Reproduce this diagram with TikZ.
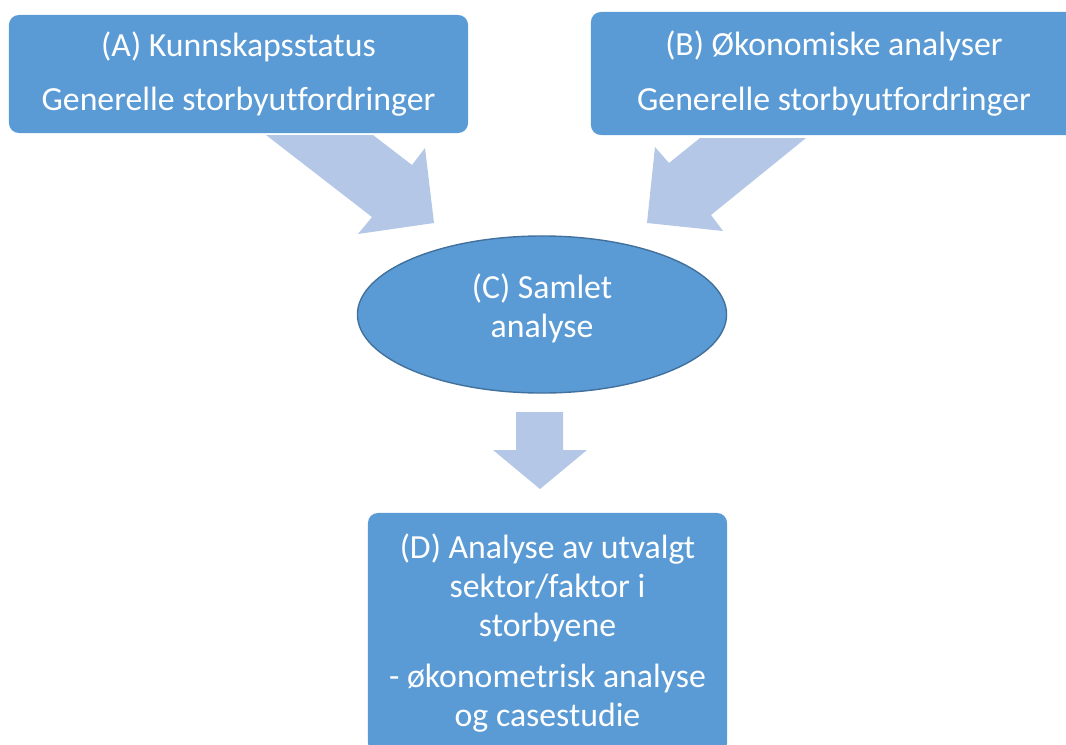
\documentclass[tikz,border=0pt]{standalone}
\usepackage{fontspec}
\setmainfont[Ligatures=NoCommon]{Carlito}
\usetikzlibrary{shapes.geometric}
\definecolor{boxblue}{HTML}{5B9BD5}
\definecolor{rimblue}{HTML}{41719C}
\definecolor{arrowblue}{HTML}{B4C7E7}
\tikzset{
  stepbox/.style={fill=boxblue, rounded corners=0.25cm, text=white, align=center,
    font=\fontsize{24}{27.6}\selectfont, inner sep=0pt},
  blockarrow/.style={fill=arrowblue, draw=none}
}

\begin{document}
\begin{tikzpicture}[x=0.025cm,y=-0.025cm]
    \useasboundingbox (0,0) rectangle (1066,744);
    \clip (0,0) rectangle (1066,744);
    % boxes
    \node[stepbox, minimum width=11.475cm, minimum height=2.95cm] (kunnskap) at (238.5,74)
      {(A) Kunnskapsstatus\\[11pt]Generelle storbyutfordringer};
    \node[stepbox, minimum width=12.15cm, minimum height=3.075cm] (okonomi) at (834,73.5)
      {(B) Økonomiske analyser\\[11pt]Generelle storbyutfordringer};
    \node[ellipse, fill=boxblue, draw=rimblue, line width=1pt, minimum width=9.225cm,
      minimum height=3.925cm, inner sep=0pt,
      label={[text=white, align=center, font=\fontsize{24}{27.6}\selectfont,
        inner sep=0pt, yshift=4.5pt]center:{(C) Samlet\\analyse}}] (samlet) at (542,314.5) {};
    \node[stepbox, minimum width=8.975cm, minimum height=6cm] (utvalgt) at (547.5,633)
      {(D) Analyse av utvalgt\\sektor/faktor i\\storbyene\\[8.6pt]- økonometrisk analyse\\og casestudie};
    % arrows
    \fill[blockarrow] (266,135) -- (373,135) -- (412,165) -- (425,148) -- (434,223)
      -- (358,234) -- (372,217) -- cycle;
    \fill[blockarrow] (806,138) -- (700,138) -- (669,163) -- (655,147) -- (647,223)
      -- (723,231) -- (711,215) -- cycle;
    \fill[blockarrow] (516,412) -- (563,412) -- (563,450) -- (587,450) -- (540,489)
      -- (493,450) -- (516,450) -- cycle;
\end{tikzpicture}
\end{document}
